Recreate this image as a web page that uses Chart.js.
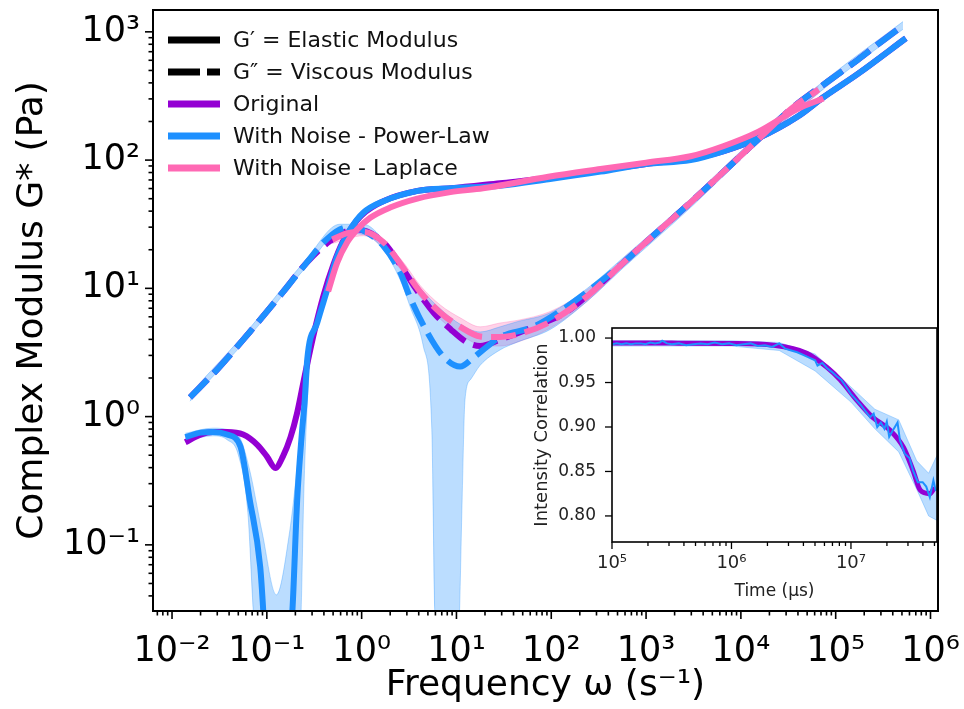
<!DOCTYPE html>
<html>
<head>
<meta charset="utf-8">
<script src="https://cdn.jsdelivr.net/npm/chart.js@4.4.1/dist/chart.umd.min.js"></script>
<style>
  html, body { margin: 0; padding: 0; background: #fff; }
  #wrap { position: relative; width: 964px; height: 709px; }
  #mainChart { position: absolute; left: 0; top: 0; }
  #insetChart { position: absolute; left: 510px; top: 318px; }
</style>
</head>
<body>
<div id="wrap">
  <canvas id="mainChart" width="964" height="709"></canvas>
  <canvas id="insetChart" width="432" height="292"></canvas>
</div>
<script>
// 數值都是從圖上讀的 log10 值 (x = log ω, y = log G)

// Original
const origGpX = [-1.86,-1.70,-1.57,-1.42,-1.25,-1.10,-1.00,-0.91,-0.83,-0.75,-0.68,-0.60,-0.50,-0.40,-0.30,-0.20,-0.10,0.00,0.23,0.59,0.94,1.46,1.97,2.52,3.00,3.47,3.82,4.18,4.60,4.87,5.23,5.74];
const origGpY = [-0.20,-0.14,-0.12,-0.12,-0.14,-0.22,-0.31,-0.40,-0.31,-0.16,0.03,0.32,0.66,0.95,1.18,1.36,1.48,1.57,1.68,1.76,1.78,1.82,1.86,1.92,1.97,2.01,2.07,2.17,2.34,2.49,2.67,2.95];
const origGppX = [-1.81,-1.52,-1.18,-0.83,-0.58,-0.33,-0.07,0.23,0.41,0.55,0.76,0.94,1.11,1.25,1.46,1.81,2.17,2.45,2.76,3.12,3.47,3.82,4.18,4.53,4.95,5.23,5.44,5.71];
const origGppY = [0.15,0.37,0.66,0.97,1.20,1.37,1.46,1.36,1.18,1.02,0.81,0.68,0.58,0.55,0.60,0.70,0.82,0.99,1.20,1.44,1.67,1.91,2.16,2.40,2.63,2.78,2.90,3.05];

// With Noise - Power-Law
const plGpX = [-1.86,-1.70,-1.57,-1.42,-1.28,-1.18,-1.07,-0.90,-0.73,-0.68,-0.63,-0.60,-0.574,-0.469,-0.363,-0.258,-0.12,0.017,0.23,0.59,0.94,1.46,1.97,2.52,3.00,3.47,3.82,4.18,4.60,4.87,5.23,5.74];
const plGpY = [-0.16,-0.125,-0.12,-0.14,-0.23,-0.65,-1.17,-3.0,-1.51,-0.65,-0.125,0.13,0.445,0.73,0.99,1.25,1.46,1.59,1.68,1.76,1.78,1.80,1.85,1.91,1.97,2.00,2.07,2.17,2.34,2.49,2.67,2.95];
const plGppX = [-1.81,-1.52,-1.18,-0.83,-0.58,-0.40,-0.23,-0.10,0.02,0.23,0.41,0.51,0.69,0.86,1.04,1.18,1.33,1.46,1.81,2.07,2.41,2.76,3.12,3.47,3.82,4.18,4.53,4.95,5.23,5.44,5.71];
const plGppY = [0.15,0.37,0.66,0.97,1.20,1.36,1.46,1.48,1.45,1.33,1.12,0.93,0.66,0.47,0.39,0.46,0.55,0.62,0.70,0.81,0.99,1.20,1.44,1.67,1.91,2.16,2.40,2.63,2.78,2.90,3.05];
const plGpLoX = [-1.86,-1.57,-1.42,-1.30,-1.20,-1.14,-0.90,-0.64,-0.61,-0.58,-0.55,-0.47,-0.36,-0.26,-0.12,0.02,0.23,0.59];
const plGpLoY = [-0.19,-0.15,-0.18,-0.30,-0.75,-1.55,-3.5,-1.55,-0.60,0.00,0.38,0.68,0.95,1.22,1.44,1.57,1.66,1.74];
const plGpHiX = [-1.86,-1.57,-1.42,-1.28,-1.18,-1.05,-0.90,-0.76,-0.68,-0.63,-0.60,-0.574,-0.469,-0.363,-0.258,-0.12,0.017,0.23,0.59];
const plGpHiY = [-0.13,-0.09,-0.10,-0.17,-0.42,-0.90,-1.39,-0.90,-0.40,-0.05,0.22,0.50,0.78,1.03,1.28,1.49,1.61,1.70,1.78];
const plGppLoX = [-1.81,-1.18,-0.58,-0.23,0.02,0.23,0.41,0.51,0.65,0.74,0.77,0.90,1.03,1.06,1.09,1.15,1.25,1.46,1.64,1.99,2.38,2.76,3.47,4.18,4.95,5.71];
const plGppLoY = [0.12,0.63,1.17,1.43,1.42,1.30,1.06,0.86,0.55,-0.10,-1.50,-4.00,-1.60,-0.65,0.13,0.29,0.40,0.52,0.58,0.68,0.90,1.16,1.63,2.13,2.60,3.02];
const plGppHiX = [-1.81,-1.18,-0.58,-0.23,0.02,0.23,0.41,0.62,0.83,1.04,1.25,1.46,1.64,1.99,2.38,2.76,3.47,4.18,4.95,5.71];
const plGppHiY = [0.18,0.69,1.23,1.50,1.50,1.38,1.21,1.00,0.84,0.72,0.66,0.70,0.74,0.81,1.00,1.24,1.70,2.19,2.66,3.08];

// With Noise - Laplace
const lapGpX = [-0.353,-0.258,-0.152,-0.046,0.09,0.30,0.587,0.936,1.28,1.97,2.52,3.00,3.47,3.82,4.18,4.60,4.87];
const lapGpY = [0.977,1.20,1.36,1.46,1.55,1.63,1.70,1.75,1.78,1.87,1.93,1.98,2.03,2.11,2.22,2.40,2.48];
const lapGppX = [-0.31,-0.15,0.02,0.23,0.41,0.62,0.83,1.04,1.25,1.39,1.64,1.99,2.38,2.76,3.12,3.47,3.82,4.18,4.53,4.82];
const lapGppY = [1.38,1.43,1.44,1.36,1.19,0.97,0.81,0.70,0.625,0.62,0.64,0.74,0.94,1.20,1.44,1.67,1.91,2.16,2.40,2.55];
const lapBandX = [-0.31,0.02,0.41,0.62,0.83,1.04,1.25,1.46,1.64,1.99,2.38,2.76,3.47,4.18,4.82];
const lapBandLo = [1.35,1.41,1.15,0.93,0.76,0.64,0.56,0.55,0.58,0.69,0.90,1.17,1.64,2.13,2.52];
const lapBandHi = [1.41,1.47,1.23,1.02,0.87,0.77,0.70,0.73,0.75,0.82,0.99,1.23,1.70,2.19,2.58];

// 插圖: 強度相關 (x = log 時間 μs)
const corrOrigX = [5.00,5.50,6.00,6.35,6.63,6.80,6.91,7.05,7.18,7.33,7.44,7.52,7.58,7.66,7.70];
const corrOrigY = [0.9944,0.9943,0.9940,0.992,0.983,0.967,0.953,0.930,0.911,0.896,0.877,0.851,0.829,0.825,0.832];
const corrNoiseX = [5.00,5.04,5.08,5.12,5.16,5.20,5.24,5.28,5.32,5.36,5.40,5.42,5.46,5.50,5.56,5.62,5.68,5.74,5.80,5.86,5.92,5.98,6.04,6.10,6.16,6.22,6.28,6.34,6.40,6.45,6.50,6.55,6.60,6.65,6.70,6.72,6.76,6.80,6.84,6.88,6.92,6.96,7.00,7.04,7.08,7.12,7.16,7.19,7.22,7.25,7.28,7.30,7.32,7.35,7.39,7.41,7.45,7.49,7.52,7.56,7.60,7.63,7.66,7.69,7.71];
const corrNoiseY = [0.993,0.994,0.993,0.994,0.993,0.994,0.994,0.993,0.995,0.994,0.995,0.997,0.994,0.993,0.994,0.992,0.993,0.994,0.993,0.995,0.993,0.994,0.992,0.993,0.994,0.991,0.992,0.990,0.994,0.988,0.986,0.984,0.981,0.978,0.975,0.969,0.972,0.966,0.962,0.957,0.953,0.945,0.937,0.931,0.925,0.918,0.911,0.915,0.900,0.905,0.898,0.906,0.889,0.896,0.905,0.885,0.870,0.865,0.851,0.838,0.838,0.833,0.821,0.840,0.828];
const corrBandX = [5.00,6.00,6.40,6.70,7.00,7.20,7.40,7.55,7.65,7.72];
const corrBandLo = [0.991,0.991,0.986,0.963,0.928,0.898,0.872,0.830,0.800,0.795];
const corrBandHi = [0.997,0.997,0.995,0.982,0.945,0.920,0.908,0.862,0.848,0.868];

const legendLabels = ['G\u2032 = Elastic Modulus', 'G\u2033 = Viscous Modulus', 'Original', 'With Noise - Power-Law', 'With Noise - Laplace'];

const PURPLE = '#9400D3';
const BLUE = '#1E90FF';
const PINK = '#FF69B4';
const BLUE_BAND = 'rgba(30,144,255,0.3)';
const PINK_BAND = 'rgba(255,105,180,0.3)';

Chart.defaults.font.family = '"DejaVu Sans", sans-serif';
Chart.defaults.color = '#000';

function logPts(lx, ly) {
    return lx.map((v, i) => ({ x: 10 ** v, y: 10 ** ly[i] }));
}
function corrPts(lx, vals) {
    return lx.map((v, i) => ({ x: 10 ** v, y: vals[i] }));
}

const SUP = { '-': '\u207B', '0': '\u2070', '1': '\u00B9', '2': '\u00B2', '3': '\u00B3', '4': '\u2074', '5': '\u2075', '6': '\u2076', '7': '\u2077', '8': '\u2078', '9': '\u2079' };
function isPow10(v) {
    const l = Math.log10(v);
    return Math.abs(l - Math.round(l)) < 1e-6;
}
function powLabel(v) {
    if (!isPow10(v)) return '';
    return '10' + String(Math.round(Math.log10(v))).split('').map(c => SUP[c]).join('');
}
// 對數軸刻度: 每個十進位 1..9
function logTicks(min, max) {
    const out = [];
    for (let e = Math.floor(Math.log10(min)); e <= Math.ceil(Math.log10(max)); e++) {
        for (let m = 1; m < 10; m++) {
            const v = m * Math.pow(10, e);
            if (v >= min * 0.9999 && v <= max * 1.0001) out.push({ value: v });
        }
    }
    return out;
}

// 自己畫刻度線和外框
const tickMarks = {
    id: 'tickMarks',
    afterDraw(chart, args, opts) {
        const ctx = chart.ctx, a = chart.chartArea;
        ctx.save();
        ctx.strokeStyle = '#000';
        ctx.lineWidth = opts.width;
        ['x', 'y'].forEach(id => {
            const s = chart.scales[id];
            s.ticks.forEach(t => {
                const major = s.type !== 'logarithmic' || isPow10(t.value);
                const len = major ? opts.major : opts.minor;
                const p = s.getPixelForValue(t.value);
                ctx.beginPath();
                if (id === 'x') { ctx.moveTo(p, a.bottom); ctx.lineTo(p, a.bottom + len); }
                else { ctx.moveTo(a.left, p); ctx.lineTo(a.left - len, p); }
                ctx.stroke();
            });
        });
        ctx.lineWidth = opts.frame;
        ctx.strokeRect(a.left, a.top, a.right - a.left, a.bottom - a.top);
        ctx.restore();
    }
};

const areaBg = {
    id: 'areaBg',
    beforeDraw(chart) {
        const a = chart.chartArea;
        chart.ctx.save();
        chart.ctx.fillStyle = '#fff';
        chart.ctx.fillRect(a.left, a.top, a.right - a.left, a.bottom - a.top);
        chart.ctx.restore();
    }
};

const legendBox = {
    id: 'legendBox',
    afterDatasetsDraw(chart) {
        const ctx = chart.ctx, a = chart.chartArea;
        const colors = ['#000', '#000', PURPLE, BLUE, PINK];
        ctx.save();
        ctx.font = '22px "DejaVu Sans"';
        ctx.textBaseline = 'middle';
        legendLabels.forEach((txt, i) => {
            const y = a.top + 30 + i * 32;
            ctx.beginPath();
            ctx.lineWidth = 7;
            ctx.strokeStyle = colors[i];
            ctx.setLineDash(i === 1 ? [32, 7] : []);
            ctx.moveTo(a.left + 15, y);
            ctx.lineTo(a.left + 67, y);
            ctx.stroke();
            ctx.setLineDash([]);
            ctx.fillStyle = '#111';
            ctx.fillText(txt, a.left + 80, y + 1);
        });
        ctx.restore();
    }
};

function line(data, color, dashed, order) {
    return {
        data: data,
        borderColor: color,
        borderWidth: 6,
        borderDash: dashed ? [25, 9] : [],
        borderCapStyle: 'butt',
        pointRadius: 0,
        fill: false,
        cubicInterpolationMode: 'monotone',
        clip: 0,
        order: order
    };
}
function bandEdge(data, color, fillTo) {
    return {
        data: data,
        borderColor: color,
        borderWidth: 1,
        backgroundColor: fillTo === false ? 'transparent' : color,
        pointRadius: 0,
        fill: fillTo,
        cubicInterpolationMode: 'monotone',
        clip: 0,
        order: 10
    };
}

const mainDatasets = [
    bandEdge(logPts(plGpLoX, plGpLoY), BLUE_BAND, false),          // 0
    bandEdge(logPts(plGpHiX, plGpHiY), BLUE_BAND, 0),              // 1
    bandEdge(logPts(plGppLoX, plGppLoY), BLUE_BAND, false),        // 2
    bandEdge(logPts(plGppHiX, plGppHiY), BLUE_BAND, 2),            // 3
    bandEdge(logPts(lapBandX, lapBandLo), PINK_BAND, false),       // 4
    bandEdge(logPts(lapBandX, lapBandHi), PINK_BAND, 4),           // 5
    line(logPts(origGpX, origGpY), PURPLE, false, 3),
    line(logPts(origGppX, origGppY), PURPLE, true, 3),
    line(logPts(plGpX, plGpY), BLUE, false, 2),
    line(logPts(plGppX, plGppY), BLUE, true, 2),
    line(logPts(lapGpX, lapGpY), PINK, false, 1),
    line(logPts(lapGppX, lapGppY), PINK, true, 1)
];

const X_MIN = 0.0063, X_MAX = 1.2e6;
const Y_MIN = 0.0305, Y_MAX = 1480;

new Chart(document.getElementById('mainChart').getContext('2d'), {
    type: 'line',
    data: { datasets: mainDatasets },
    plugins: [tickMarks, legendBox],
    options: {
        responsive: false,
        animation: false,
        devicePixelRatio: 1,
        layout: { padding: { top: 10, right: 26, left: 0, bottom: 0 } },
        plugins: {
            legend: { display: false },
            tooltip: { enabled: false },
            tickMarks: { major: 8, minor: 4.5, width: 1.6, frame: 2 }
        },
        scales: {
            x: {
                type: 'logarithmic',
                min: X_MIN,
                max: X_MAX,
                afterBuildTicks: s => { s.ticks = logTicks(X_MIN, X_MAX); },
                afterFit: s => { s.height = 98; s.paddingLeft = 0; s.paddingRight = 0; },
                grid: { display: false, drawTicks: false },
                border: { display: false },
                ticks: {
                    autoSkip: false, maxRotation: 0, padding: 20,
                    font: { size: 35 },
                    callback: v => powLabel(v)
                },
                title: {
                    display: true,
                    text: 'Frequency \u03C9 (s\u207B\u00B9)',
                    font: { size: 36 },
                    padding: { top: 0, bottom: 2 }
                }
            },
            y: {
                type: 'logarithmic',
                min: Y_MIN,
                max: Y_MAX,
                afterBuildTicks: s => { s.ticks = logTicks(Y_MIN, Y_MAX); },
                afterFit: s => { s.width = 153; s.paddingTop = 0; s.paddingBottom = 0; },
                grid: { display: false, drawTicks: false },
                border: { display: false },
                ticks: {
                    autoSkip: false, padding: 13,
                    font: { size: 35 },
                    callback: v => powLabel(v)
                },
                title: {
                    display: true,
                    text: 'Complex Modulus G* (Pa)',
                    font: { size: 36 },
                    padding: { top: 11, bottom: 0 }
                }
            }
        }
    }
});

// 插圖
const T_MIN = 1e5, T_MAX = 5.25e7;
const C_MIN = 0.7707, C_MAX = 1.0113;
const corrTicks = [0.80, 0.85, 0.90, 0.95, 1.00];

new Chart(document.getElementById('insetChart').getContext('2d'), {
    type: 'line',
    data: {
        datasets: [
            { data: corrPts(corrBandX, corrBandLo), borderColor: BLUE_BAND, borderWidth: 1, pointRadius: 0, fill: false, order: 10 },
            { data: corrPts(corrBandX, corrBandHi), borderColor: BLUE_BAND, borderWidth: 1, backgroundColor: BLUE_BAND, pointRadius: 0, fill: 0, order: 10 },
            { data: corrPts(corrOrigX, corrOrigY), borderColor: PURPLE, borderWidth: 5, pointRadius: 0, fill: false, cubicInterpolationMode: 'monotone', order: 3 },
            { data: corrPts(corrNoiseX, corrNoiseY), borderColor: BLUE, borderWidth: 2, pointRadius: 0, fill: false, tension: 0, order: 1 }
        ]
    },
    plugins: [areaBg, tickMarks],
    options: {
        responsive: false,
        animation: false,
        devicePixelRatio: 1,
        layout: { padding: { top: 10, right: 5, left: 0, bottom: 0 } },
        plugins: {
            legend: { display: false },
            tooltip: { enabled: false },
            tickMarks: { major: 7, minor: 4, width: 1.3, frame: 1.6 }
        },
        scales: {
            x: {
                type: 'logarithmic',
                min: T_MIN,
                max: T_MAX,
                afterBuildTicks: s => { s.ticks = logTicks(T_MIN, T_MAX); },
                afterFit: s => { s.height = 68; s.paddingLeft = 0; s.paddingRight = 0; },
                grid: { display: false, drawTicks: false },
                border: { display: false },
                ticks: {
                    autoSkip: false, maxRotation: 0, padding: 11,
                    font: { size: 18 },
                    color: '#222',
                    callback: v => powLabel(v)
                },
                title: {
                    display: true,
                    text: 'Time (\u03BCs)',
                    font: { size: 17 },
                    color: '#222',
                    padding: { top: 0, bottom: 8 }
                }
            },
            y: {
                type: 'linear',
                min: C_MIN,
                max: C_MAX,
                afterBuildTicks: s => { s.ticks = corrTicks.map(v => ({ value: v })); },
                afterFit: s => { s.width = 102; s.paddingTop = 0; s.paddingBottom = 0; },
                grid: { display: false, drawTicks: false },
                border: { display: false },
                ticks: {
                    autoSkip: false, padding: 16,
                    font: { size: 17 },
                    color: '#222',
                    callback: v => v.toFixed(2)
                },
                title: {
                    display: true,
                    text: 'Intensity Correlation',
                    font: { size: 18 },
                    color: '#222',
                    padding: { top: 22, bottom: 0 }
                }
            }
        }
    }
});
</script>
</body>
</html>
